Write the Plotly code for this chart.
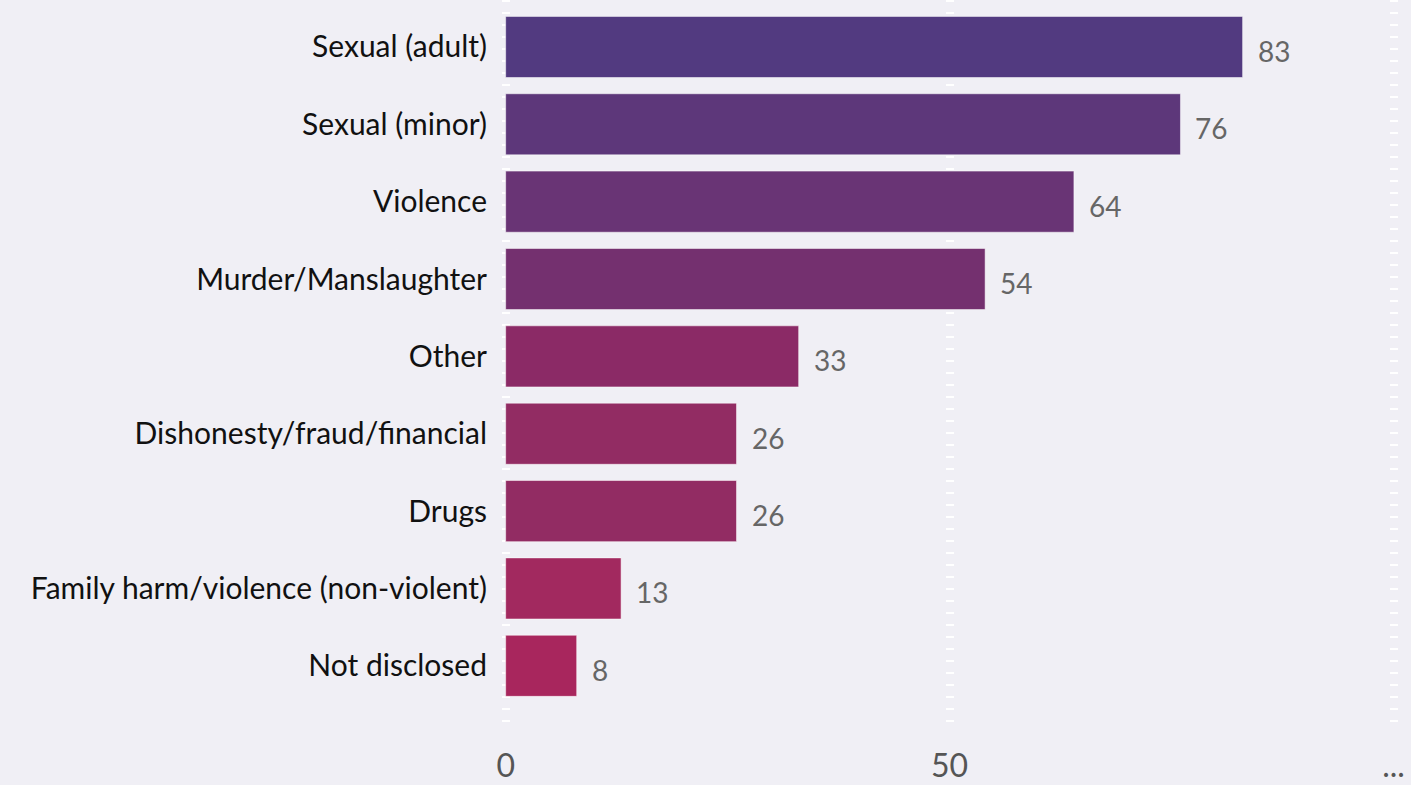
import plotly.graph_objects as go

categories = ["Sexual (adult)", "Sexual (minor)", "Violence", "Murder/Manslaughter", "Other",
              "Dishonesty/fraud/financial", "Drugs", "Family harm/violence (non-violent)", "Not disclosed"]
values = [83, 76, 64, 54, 33, 26, 26, 13, 8]
colors = ["#523a80", "#5d377a", "#693475", "#74306f", "#8b2a66", "#922c63", "#922c63", "#a2295f", "#a8265d"]
tick_vals = [0, 50, 100]
tick_text = ["0", "50", "..."]

fig = go.Figure(go.Bar(
    x=values, y=categories, orientation="h",
    marker=dict(color=colors, line=dict(color="rgba(255,255,255,0.5)", width=1)),
    cliponaxis=False, width=0.79, hoverinfo="x+y",
))

for c, v in zip(categories, values):
    fig.add_annotation(x=v, y=c, text=str(v), showarrow=False, xanchor="left",
                       xshift=13, yshift=-4,
                       font=dict(family="Lato", size=28, color="#666666"))

fig.update_layout(
    width=1411, height=785,
    paper_bgcolor="#f0eff5", plot_bgcolor="#f0eff5",
    margin=dict(l=503, r=13, t=0, b=55),
    showlegend=False,
    font=dict(family="Lato", size=30, color="#111111"),
    xaxis=dict(range=[-0.3, 100.5], tickvals=tick_vals, ticktext=tick_text,
               showgrid=True, gridcolor="white", gridwidth=8, griddash="1.5px,10.5px",
               zeroline=False, showline=False, ticklabelstandoff=14,
               tickfont=dict(family="Lato", size=32, color="#555555")),
    yaxis=dict(categoryorder="array", categoryarray=categories, range=[8.83, -0.607],
               showgrid=False, zeroline=False, ticks="", ticklabelstandoff=15,
               tickfont=dict(family="Lato", size=30, color="#111111")),
)

fig.write_html("out.html", config={"displayModeBar": False},
               post_script="document.body.style.margin='0';document.body.style.background='#f0eff5';")
